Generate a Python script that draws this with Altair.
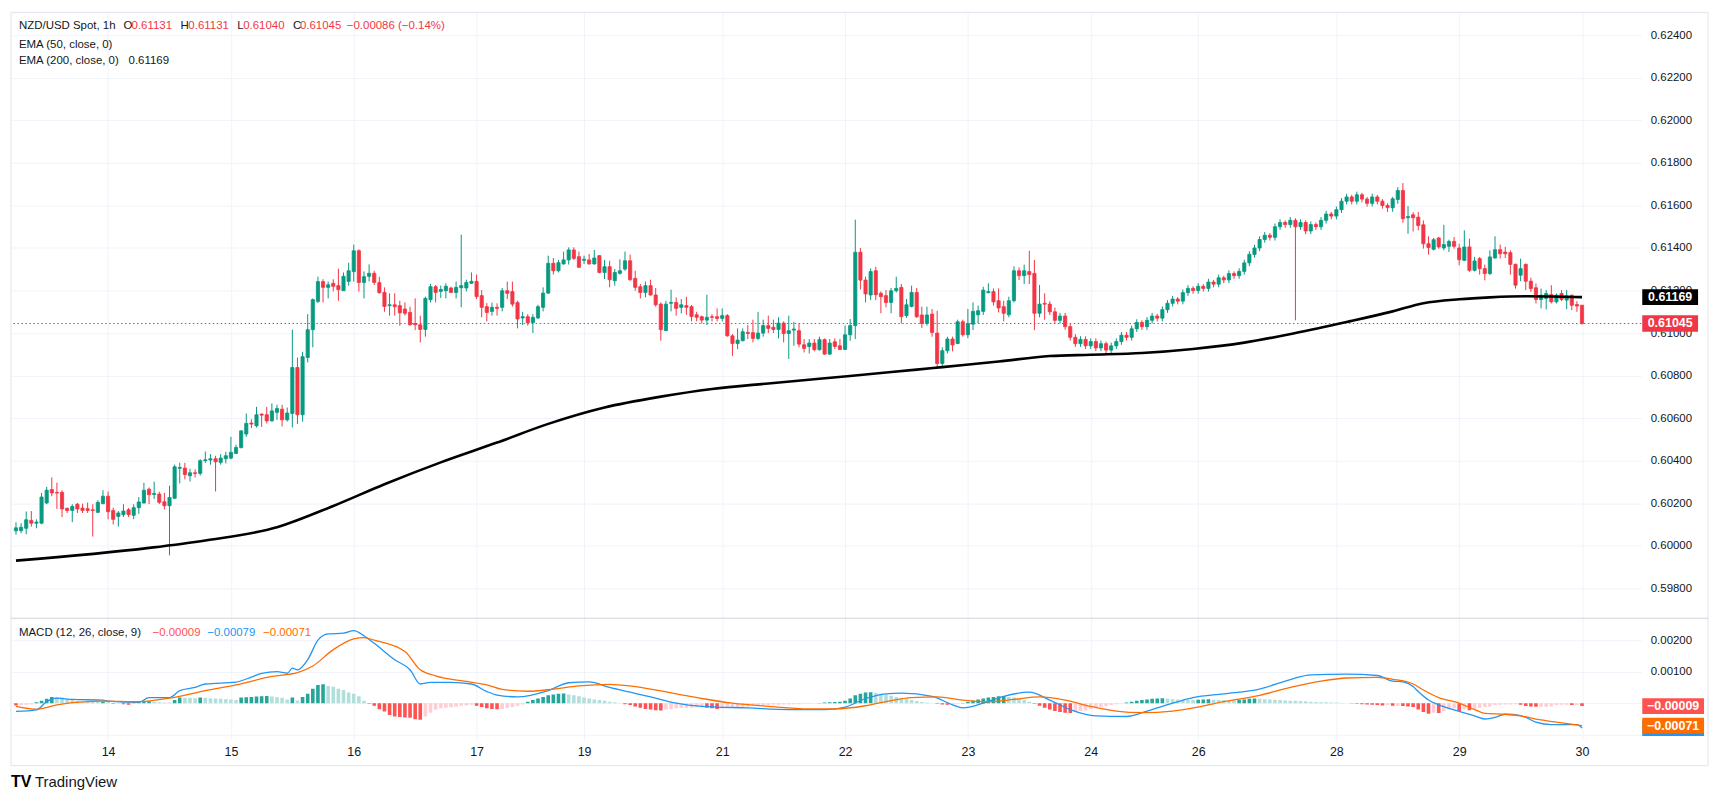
import altair as alt
import pandas as pd

# ---------------- data (prices in 1e-5 units) ----------------
open_pts = [
    60070, 60071, 60082, 60119, 60106, 60106, 60201, 60264, 60251, 60251,
    60176, 60166, 60195, 60177, 60174, 60169, 60157, 60198, 60233, 60166,
    60138, 60146, 60169, 60143, 60179, 60201, 60266, 60241, 60243, 60207,
    60188, 60223, 60364, 60365, 60329, 60343, 60340, 60400, 60403, 60409,
    60392, 60409, 60412, 60434, 60462, 60525, 60577, 60564, 60619, 60616,
    60587, 60627, 60642, 60592, 60622, 60838, 60616, 60885, 61016, 61149,
    61242, 61215, 61234, 61223, 61199, 61243, 61289, 61387, 61238, 61267,
    61281, 61237, 61191, 61129, 61133, 61129, 61113, 61097, 61045, 61039,
    61017, 61157, 61218, 61196, 61199, 61212, 61191, 61213, 61212, 61234,
    61243, 61176, 61124, 61102, 61121, 61121, 61199, 61195, 61143, 61071,
    61077, 61049, 61071, 61121, 61188, 61328, 61293, 61325, 61344, 61391,
    61359, 61342, 61344, 61325, 61364, 61285, 61312, 61246, 61281, 61301,
    61340, 61257, 61218, 61191, 61223, 61179, 61136, 61011, 61140, 61144,
    61121, 61129, 61124, 61086, 61077, 61061, 61077, 61077, 61069, 61082,
    60987, 60951, 60964, 61003, 61002, 60975, 61000, 61035, 61027, 61017,
    61047, 60998, 61014, 61011, 60945, 60937, 60953, 60922, 60969, 60901,
    60959, 60940, 60923, 60992, 61035, 61380, 61249, 61179, 61293, 61187,
    61176, 61144, 61199, 61215, 61082, 61125, 61191, 61085, 61045, 61089,
    61000, 60857, 60917, 60972, 60951, 61053, 60992, 61042, 61086, 61102,
    61190, 61195, 61152, 61124, 61086, 61152, 61293, 61270, 61289, 61281,
    61093, 61140, 61136, 61100, 61060, 61080, 61030, 60980, 60950, 60970,
    60940, 60960, 60930, 60950, 60920, 60940, 60960, 60990, 60980, 61020,
    61050, 61030, 61060, 61080, 61070, 61110, 61140, 61160, 61150, 61190,
    61210, 61200, 61220, 61210, 61240, 61230, 61260, 61250, 61280, 61270,
    61290, 61330, 61370, 61400, 61440, 61460, 61450, 61500, 61520, 61510,
    61530, 61500, 61520, 61480, 61510, 61500, 61530, 61560, 61550, 61580,
    61620, 61640, 61620, 61650, 61630, 61610, 61640, 61620, 61600, 61589,
    61628, 61670, 61542, 61556, 61545, 61509, 61420, 61394, 61447, 61400,
    61408, 61431, 61400, 61342, 61405, 61295, 61350, 61303, 61280, 61353,
    61392, 61381, 61378, 61323, 61272, 61323, 61244, 61213, 61158, 61163,
    61181, 61147, 61186, 61155, 61178, 61134, 61131,
]
high_pts = [
    60110, 60106, 60161, 60163, 60124, 60248, 60277, 60321, 60296, 60261,
    60179, 60195, 60201, 60198, 60203, 60195, 60214, 60261, 60255, 60179,
    60163, 60195, 60177, 60195, 60229, 60296, 60274, 60301, 60254, 60249,
    60282, 60381, 60390, 60390, 60362, 60359, 60407, 60443, 60431, 60423,
    60431, 60442, 60512, 60475, 60544, 60622, 60595, 60653, 60622, 60653,
    60669, 60663, 60663, 60650, 61016, 60885, 60912, 61089, 61163, 61265,
    61253, 61242, 61253, 61303, 61285, 61331, 61416, 61394, 61290, 61323,
    61293, 61265, 61215, 61187, 61187, 61152, 61144, 61124, 61163, 61082,
    61171, 61231, 61226, 61223, 61234, 61218, 61242, 61463, 61251, 61285,
    61275, 61202, 61141, 61143, 61140, 61212, 61242, 61242, 61152, 61100,
    61089, 61089, 61133, 61215, 61364, 61353, 61344, 61383, 61403, 61403,
    61383, 61364, 61372, 61391, 61367, 61344, 61340, 61301, 61347, 61383,
    61369, 61293, 61231, 61242, 61251, 61212, 61144, 61152, 61204, 61168,
    61160, 61171, 61132, 61100, 61082, 61180, 61089, 61116, 61116, 61089,
    60995, 61022, 61022, 61038, 61063, 61100, 61063, 61082, 61063, 61074,
    61055, 61082, 61053, 61045, 60972, 60972, 60972, 60983, 60975, 60972,
    60975, 60972, 61035, 61066, 61533, 61400, 61265, 61304, 61312, 61196,
    61202, 61212, 61265, 61231, 61160, 61223, 61212, 61124, 61124, 61113,
    61105, 60933, 60983, 60983, 61063, 61063, 61113, 61144, 61129, 61218,
    61234, 61210, 61210, 61152, 61171, 61314, 61309, 61322, 61387, 61344,
    61226, 61187, 61150, 61120, 61095, 61095, 61045, 60995, 60985, 60985,
    60975, 60975, 60965, 60960, 60955, 60975, 61005, 61005, 61035, 61065,
    61060, 61075, 61095, 61090, 61125, 61155, 61175, 61170, 61205, 61225,
    61220, 61235, 61230, 61255, 61250, 61275, 61270, 61295, 61290, 61305,
    61345, 61385, 61415, 61455, 61475, 61470, 61515, 61535, 61530, 61545,
    61540, 61535, 61530, 61525, 61520, 61545, 61575, 61570, 61595, 61635,
    61655, 61650, 61665, 61660, 61640, 61655, 61650, 61630, 61610, 61640,
    61686, 61705, 61597, 61569, 61569, 61530, 61455, 61447, 61452, 61509,
    61439, 61452, 61420, 61483, 61444, 61358, 61358, 61322, 61389, 61455,
    61416, 61405, 61389, 61327, 61350, 61327, 61261, 61233, 61209, 61202,
    61225, 61186, 61202, 61202, 61181, 61150, 61131,
]
low_pts = [
    60052, 60059, 60054, 60090, 60082, 60101, 60195, 60233, 60173, 60135,
    60154, 60111, 60154, 60154, 60154, 60043, 60154, 60195, 60124, 60100,
    60090, 60135, 60135, 60125, 60150, 60198, 60196, 60220, 60196, 60171,
    59955, 60220, 60293, 60312, 60302, 60321, 60330, 60390, 60381, 60255,
    60381, 60387, 60406, 60431, 60457, 60512, 60553, 60556, 60559, 60575,
    60584, 60592, 60561, 60584, 60556, 60572, 60583, 60862, 60933, 61141,
    61144, 61163, 61196, 61152, 61199, 61223, 61242, 61195, 61163, 61243,
    61226, 61185, 61100, 61082, 61082, 61035, 61082, 61035, 61014, 60956,
    60983, 61144, 61144, 61165, 61163, 61188, 61163, 61121, 61196, 61231,
    61160, 61074, 61055, 61082, 61082, 61102, 61160, 61124, 61022, 61038,
    61035, 61000, 61066, 61102, 61184, 61275, 61285, 61322, 61322, 61344,
    61309, 61325, 61322, 61322, 61281, 61254, 61215, 61223, 61275, 61293,
    61246, 61199, 61163, 61168, 61176, 61124, 60964, 61011, 61102, 61082,
    61093, 61086, 61055, 61055, 61045, 61038, 61055, 61055, 61055, 60983,
    60893, 60925, 60961, 60972, 60956, 60967, 60983, 61000, 61000, 60975,
    60956, 60878, 60940, 60933, 60909, 60904, 60914, 60917, 60898, 60898,
    60925, 60920, 60920, 60964, 60972, 61205, 61144, 61155, 61155, 61093,
    61121, 61093, 61191, 61045, 61071, 61121, 61071, 61024, 61035, 60983,
    60838, 60835, 60904, 60914, 60948, 60983, 60976, 61014, 61045, 61085,
    61187, 61129, 61097, 61055, 61074, 61144, 61249, 61231, 61231, 61014,
    61074, 61063, 61085, 61045, 61045, 61015, 60965, 60935, 60935, 60925,
    60925, 60915, 60915, 60900, 60905, 60925, 60945, 60965, 60965, 61005,
    61015, 61015, 61045, 61055, 61055, 61095, 61125, 61135, 61135, 61175,
    61185, 61185, 61195, 61195, 61215, 61215, 61235, 61235, 61255, 61255,
    61275, 61315, 61355, 61385, 61425, 61435, 61435, 61485, 61495, 61495,
    61060, 61485, 61465, 61465, 61485, 61485, 61515, 61535, 61535, 61565,
    61605, 61605, 61605, 61615, 61595, 61595, 61605, 61585, 61570, 61570,
    61608, 61519, 61467, 61478, 61483, 61397, 61369, 61389, 61397, 61389,
    61381, 61397, 61319, 61338, 61288, 61290, 61275, 61248, 61272, 61350,
    61350, 61353, 61275, 61209, 61244, 61202, 61194, 61139, 61116, 61111,
    61139, 61139, 61150, 61113, 61108, 61100, 61040,
]
close_pts = [
    60084, 60087, 60122, 60106, 60111, 60229, 60261, 60248, 60248, 60173,
    60166, 60185, 60173, 60166, 60166, 60166, 60204, 60233, 60160, 60124,
    60154, 60163, 60146, 60179, 60206, 60261, 60240, 60246, 60204, 60188,
    60227, 60371, 60368, 60335, 60343, 60340, 60400, 60404, 60409, 60395,
    60412, 60423, 60439, 60462, 60540, 60575, 60572, 60616, 60614, 60587,
    60634, 60645, 60592, 60624, 60838, 60616, 60889, 61016, 61157, 61242,
    61215, 61227, 61220, 61204, 61267, 61293, 61387, 61238, 61265, 61281,
    61238, 61190, 61125, 61133, 61124, 61095, 61093, 61039, 61039, 61017,
    61163, 61218, 61191, 61205, 61220, 61191, 61215, 61223, 61238, 61243,
    61171, 61121, 61097, 61121, 61116, 61199, 61187, 61136, 61066, 61077,
    61049, 61074, 61124, 61188, 61328, 61293, 61331, 61344, 61391, 61351,
    61309, 61347, 61325, 61353, 61285, 61312, 61251, 61285, 61293, 61340,
    61251, 61215, 61191, 61223, 61179, 61133, 61016, 61136, 61144, 61116,
    61133, 61121, 61078, 61074, 61061, 61074, 61074, 61069, 61082, 60987,
    60951, 60967, 61006, 60998, 60975, 61000, 61035, 61022, 61017, 61047,
    60998, 61011, 61019, 60948, 60928, 60953, 60922, 60969, 60901, 60953,
    60937, 60923, 60992, 61035, 61380, 61249, 61184, 61289, 61180, 61171,
    61144, 61199, 61210, 61077, 61133, 61191, 61077, 61045, 61085, 61003,
    60857, 60917, 60972, 60944, 61053, 60992, 61045, 61102, 61105, 61202,
    61195, 61147, 61118, 61093, 61152, 61293, 61270, 61293, 61275, 61093,
    61136, 61136, 61100, 61060, 61080, 61030, 60980, 60950, 60970, 60940,
    60960, 60930, 60950, 60920, 60940, 60960, 60990, 60980, 61020, 61050,
    61030, 61060, 61080, 61070, 61110, 61140, 61160, 61150, 61190, 61210,
    61200, 61220, 61210, 61240, 61230, 61260, 61250, 61280, 61270, 61290,
    61330, 61370, 61400, 61440, 61460, 61450, 61500, 61520, 61510, 61530,
    61500, 61520, 61480, 61510, 61500, 61530, 61560, 61550, 61580, 61620,
    61640, 61620, 61650, 61630, 61610, 61640, 61620, 61600, 61590, 61631,
    61670, 61538, 61548, 61542, 61506, 61420, 61402, 61439, 61405, 61416,
    61431, 61408, 61345, 61405, 61295, 61339, 61303, 61280, 61358, 61392,
    61373, 61373, 61323, 61225, 61303, 61244, 61209, 61158, 61178, 61186,
    61147, 61178, 61158, 61175, 61131, 61127, 61045,
]

ema200_bar = [0, 26, 37, 51, 62, 72, 83, 94, 104, 115, 126, 136, 147, 157, 168,
              176, 181, 192, 202, 210, 220, 230, 240, 250, 260, 269, 275, 282,
              288, 295, 306]
ema200_val = [0.59930, 0.59990, 0.60025, 0.60087, 0.60187, 0.60289, 0.60392,
              0.60485, 0.60573, 0.60650, 0.60701, 0.60737, 0.60763, 0.60785,
              0.60810, 0.60828, 0.60840, 0.60866, 0.60892, 0.60898, 0.60906,
              0.60925, 0.60955, 0.61000, 0.61052, 0.61102, 0.61140, 0.61159,
              0.61168, 0.61173, 0.61169]

# MACD values in 1e-5 units
macd_bar = [0, 4, 6, 8, 11, 17, 18, 24, 26, 30, 32, 35, 37, 43, 46, 48, 51, 53,
            54, 55, 57, 59, 61, 64, 66, 68, 70, 74, 77, 79, 81, 85, 89, 92, 94,
            98, 104, 108, 112, 116, 120, 124, 129, 134, 143, 151, 158, 162, 166,
            170, 173, 179, 183, 185, 189, 193, 198, 202, 206, 211, 217, 221, 226,
            230, 236, 243, 249, 253, 260, 266, 269, 271, 273, 274, 276, 278, 280,
            282, 285, 287, 289, 291, 294, 297, 300, 305, 306]
macd_val = [-26, -21, 5, 16, 12, 10, 7, 3, 18, 18, 40, 50, 61, 67, 83, 95, 100,
            95, 111, 106, 138, 200, 220, 222, 230, 214, 190, 138, 106, 61, 66, 66,
            61, 37, 26, 20, 40, 65, 68, 50, 35, 20, 0, -10, -15, -20, -20, -12,
            15, 30, 32, 22, -5, -15, 0, 22, 35, 10, -20, -40, -42, -25, 0, 18,
            30, 45, 75, 90, 92, 88, 70, 68, 53, 37, 10, -5, -16, -26, -40, -50,
            -45, -35, -39, -60, -68, -68, -79]
signal_bar = [0, 4, 8, 11, 17, 24, 30, 37, 43, 50, 55, 58, 62, 66, 68, 70, 76,
              79, 82, 88, 92, 95, 100, 105, 110, 116, 120, 124, 129, 134, 140,
              147, 155, 160, 166, 170, 175, 180, 185, 190, 195, 200, 205, 210,
              215, 220, 226, 230, 236, 243, 249, 255, 260, 266, 269, 273, 275,
              278, 282, 285, 287, 291, 294, 298, 301, 306]
signal_val = [-10, -19, -5, 2, 7, 5, 16, 40, 58, 85, 97, 118, 170, 204, 208, 200,
              164, 106, 87, 69, 58, 44, 38, 45, 55, 60, 55, 45, 30, 15, 0, -10,
              -18, -18, -8, 5, 18, 20, 10, 5, 12, 20, 10, -10, -25, -30, -25, -15,
              5, 25, 50, 70, 80, 82, 76, 61, 42, 18, 0, -20, -32, -35, -40, -53,
              -60, -71]
hist_val = [
    -7, -6, -5, -4, 3, 8, 14, 20, 20, 18,
    13, 10, 7, 5, 5, 4, 4, 5, 5, -2,
    -2, -3, -5, 3, 4, 5, 6, 4, 3, 2,
    2, 10, 18, 17, 17, 16, 18, 17, 16, 15,
    14, 13, 12, 10, 18, 19, 20, 21, 22, 23,
    21, 19, 17, 12, 18, 9, 20, 30, 46, 58,
    60, 55, 52, 46, 42, 34, 30, 22, 8, -2,
    -8, -19, -26, -37, -42, -44, -45, -46, -51, -52,
    -42, -30, -21, -16, -14, -13, -11, -8, -7, -5,
    -8, -12, -16, -18, -19, -18, -15, -12, -8, -4,
    5, 10, 15, 20, 25, 28, 30, 31, 28, 25,
    22, 18, 15, 12, 10, 8, 5, 3, 1, -3,
    -6, -10, -14, -18, -20, -22, -23, -20, -18, -16,
    -15, -15, -14, -13, -12, -14, -16, -18, -17, -15,
    -14, -13, -12, -10, -8, -7, -6, -6, -5, -5,
    -4, -4, -3, -3, -2, -2, -1, 1, 2, 3,
    4, 5, 8, 15, 25, 30, 34, 35, 33, 30,
    27, 24, 20, 17, 14, 10, 7, 4, 2, 0,
    -2, -4, -5, -4, -2, 1, 4, 8, 12, 15,
    18, 20, 22, 23, 20, 18, 15, 10, 5, -2,
    -8, -14, -20, -25, -28, -30, -31, -28, -25, -22,
    -18, -15, -12, -9, -6, -3, -1, 2, 5, 8,
    10, 12, 14, 15, 16, 14, 13, 12, 11, 10,
    10, 11, 12, 13, 11, 10, 10, 9, 9, 10,
    12, 14, 15, 14, 13, 12, 11, 10, 9, 8,
    8, 7, 6, 5, 4, 3, 3, 2, 2, 1,
    0, -1, -2, -3, -4, -5, -6, -7, -6, -8,
    -8, -9, -10, -12, -20, -28, -33, -30, -31, -25,
    -20, -16, -25, -20, -22, -18, -15, -12, -10, -6,
    -5, -4, -4, -3, -5, -9, -10, -11, -11, -11,
    -10, -6, -5, -5, -6, -6, -9,
]

day_labels = ["14", "15", "16", "17", "19", "21", "22", "23", "24", "26", "28", "29", "30"]
day_label_bars = [18, 42, 66, 90, 111, 138, 162, 186, 210, 231, 258, 282, 306]
price_ticks = [0.598, 0.600, 0.602, 0.604, 0.606, 0.608, 0.610, 0.612, 0.614,
               0.616, 0.618, 0.620, 0.622, 0.624]
macd_ticks = [-0.001, 0.0, 0.001, 0.002]

last_close = 0.61045
last_ema = 0.61169
last_hist, last_macd, last_signal = -0.00009, -0.00079, -0.00071

# ---------------- styling ----------------
FONT = "Liberation Sans"
FS = 11.5
TXT = "#131722"
UP, DOWN = "#089981", "#f23645"
GRID = "#f0f3fa"
BORDER = "#e0e3eb"
W, HP, HM = 1636, 608, 122
X_DOM = [0, 316.6]
P_DOM = [0.59659, 0.62508]
M_DOM = [-0.00116, 0.002695]

n = min(len(open_pts), len(high_pts), len(low_pts), len(close_pts))
candles = pd.DataFrame({
    "bar": list(range(n)),
    "o": [v / 1e5 for v in open_pts[:n]],
    "h": [v / 1e5 for v in high_pts[:n]],
    "l": [v / 1e5 for v in low_pts[:n]],
    "c": [v / 1e5 for v in close_pts[:n]],
})
candles["col"] = [UP if c >= o else DOWN for o, c in zip(candles["o"], candles["c"])]

ema_df = pd.DataFrame({"bar": ema200_bar, "v": ema200_val})
macd_df = pd.DataFrame({"bar": macd_bar, "v": [v / 1e5 for v in macd_val]})
sig_df = pd.DataFrame({"bar": signal_bar, "v": [v / 1e5 for v in signal_val]})
hist_cols = []
prev = 0
for hv in hist_val:
    if hv >= 0:
        hist_cols.append("#26a69a" if hv > prev else "#b2dfdb")
    else:
        hist_cols.append("#ff5252" if hv < prev else "#ffcdd2")
    prev = hv
hist_df = pd.DataFrame({"bar": list(range(len(hist_val))),
                        "v": [v / 1e5 for v in hist_val], "col": hist_cols})

xs = alt.Scale(domain=X_DOM, nice=False, zero=False)
ps = alt.Scale(domain=P_DOM, nice=False, zero=False)
ms = alt.Scale(domain=M_DOM, nice=False, zero=False)

label_expr = " : ".join(f"datum.value == {b} ? '{d}'" for b, d in zip(day_label_bars, day_labels)) + " : ''"

X_AX_P = alt.Axis(values=day_label_bars, grid=True, gridColor=GRID, labels=False,
                  ticks=False, domain=False, title=None)
X_AX_M = alt.Axis(values=day_label_bars, grid=True, gridColor=GRID, labelExpr=label_expr,
                  ticks=False, domain=False, title=None, labelFontSize=12.5,
                  labelColor=TXT, labelPadding=6, labelFont=FONT)
Y_AX_P = alt.Axis(orient="right", values=price_ticks, format=".5f", grid=True,
                  gridColor=GRID, ticks=False, domain=False, title=None,
                  labelFontSize=FS, labelColor=TXT, labelPadding=9, labelFont=FONT)
Y_AX_M = alt.Axis(orient="right", values=macd_ticks, grid=True, gridColor=GRID,
                  ticks=False, domain=False, title=None, labelFontSize=FS,
                  labelColor=TXT, labelPadding=9, labelFont=FONT,
                  labelExpr="datum.value > 0.0005 ? format(datum.value, '.5f') : ''")


def XP(f="bar"):
    return alt.X(f"{f}:Q", scale=xs, axis=X_AX_P)


def YP(f):
    return alt.Y(f"{f}:Q", scale=ps, axis=Y_AX_P)


def XM(f="bar"):
    return alt.X(f"{f}:Q", scale=xs, axis=X_AX_M)


def YM(f):
    return alt.Y(f"{f}:Q", scale=ms, axis=Y_AX_M)


def one(**kw):
    return pd.DataFrame({k: [v] for k, v in kw.items()})


def txt(s, x, y, color=TXT, size=FS, weight="normal", align="left"):
    return alt.Chart(one(t=s)).mark_text(
        align=align, baseline="middle", fontSize=size, fontWeight=weight,
        color=color, font=FONT
    ).encode(x=alt.value(x), y=alt.value(y), text="t:N")


def box(value, label, fill, half, x1, x2, ycall, size=12.5):
    df = one(v=value, top=value + half, bot=value - half, t=label)
    r = alt.Chart(df).mark_rect(color=fill).encode(
        x=alt.value(x1), x2=alt.value(x2), y=ycall("top"), y2="bot:Q")
    t = alt.Chart(df).mark_text(color="white", fontSize=size, fontWeight="bold",
                                align="center", baseline="middle", font=FONT).encode(
        x=alt.value((x1 + x2) / 2), y=ycall("v"), text="t:N")
    return [r, t]


def rule_px(x, x2, y, y2, color=BORDER):
    return alt.Chart(one(a=1)).mark_rule(color=color, strokeWidth=1).encode(
        x=alt.value(x), x2=alt.value(x2), y=alt.value(y), y2=alt.value(y2))


# ---------------- price pane ----------------
wicks = alt.Chart(candles).mark_rule(strokeWidth=1, clip=True).encode(
    x=XP(), y=YP("l"), y2="h:Q", color=alt.Color("col:N", scale=None))
bodies = alt.Chart(candles).mark_bar(size=3.2, strokeWidth=0.8, clip=True).encode(
    x=XP(), y=YP("o"), y2="c:Q",
    color=alt.Color("col:N", scale=None), stroke=alt.Stroke("col:N", scale=None))
ema_line = alt.Chart(ema_df).mark_line(color="black", strokeWidth=2.6,
                                       interpolate="monotone", clip=True).encode(
    x=XP(), y=YP("v"))
close_line = alt.Chart(one(v=last_close)).mark_rule(
    color=DOWN, strokeDash=[1.5, 2.5], strokeWidth=1).encode(y=YP("v"))

price_layers = [wicks, close_line, bodies, ema_line]
price_layers += box(last_ema, "0.61169", "#000000", 0.00037, 1637, 1693, YP)
price_layers += box(last_close, "0.61045", DOWN, 0.00039, 1637, 1693, YP)

price_layers += [
    txt("NZD/USD Spot, 1h", 8, 14),
    txt("O", 113, 14), txt("0.61131", 121, 14, DOWN),
    txt("H", 170, 14), txt("0.61131", 178, 14, DOWN),
    txt("L", 227, 14), txt("0.61040", 233, 14, DOWN),
    txt("C", 283, 14), txt("0.61045", 290, 14, DOWN),
    txt("\u22120.00086 (\u22120.14%)", 337, 14, DOWN),
    txt("EMA (50, close, 0)", 8, 33),
    txt("EMA (200, close, 0)", 8, 49), txt("0.61169", 118, 49),
    txt("TV", 0, 772, "#000000", 16, "bold"),
    txt("TradingView", 24, 772, TXT, 15),
]
price_layers += [
    rule_px(0, 1703, 0, 0),
    rule_px(0, 0, 0, 756),
    rule_px(1703, 1703, 0, 756),
    rule_px(0, 1703, 756, 756),
    rule_px(0, 1703, 608, 608, "#d1d4dc"),
]
price = alt.layer(*price_layers).properties(width=W, height=HP)

# ---------------- MACD pane ----------------
hist = alt.Chart(hist_df).mark_bar(size=3.6, clip=True).encode(
    x=XM(), y=YM("v"), y2=alt.datum(0), color=alt.Color("col:N", scale=None))
macd_line = alt.Chart(macd_df).mark_line(color="#2196f3", strokeWidth=1.3,
                                         interpolate="monotone", clip=True).encode(
    x=XM(), y=YM("v"))
sig_line = alt.Chart(sig_df).mark_line(color="#ff6d00", strokeWidth=1.3,
                                       interpolate="monotone", clip=True).encode(
    x=XM(), y=YM("v"))

macd_layers = [hist, macd_line, sig_line]
macd_layers += box(last_macd, "\u22120.00079", "#2196f3", 0.00025, 1637, 1699, YM)
macd_layers += box(last_signal, "\u22120.00071", "#ff6d00", 0.00025, 1637, 1699, YM)
macd_layers += box(last_hist, "\u22120.00009", "#ff5252", 0.00025, 1637, 1699, YM)
macd_layers += [
    txt("MACD (12, 26, close, 9)", 8, 15),
    txt("\u22120.00009", 142, 15, "#ff5252"),
    txt("\u22120.00079", 197, 15, "#2196f3"),
    txt("\u22120.00071", 253, 15, "#ff6d00"),
]
macd = alt.layer(*macd_layers).properties(width=W, height=HM)

chart = alt.vconcat(price, macd, spacing=0, bounds="flush").properties(
    padding={"left": 2, "top": 2, "right": 6, "bottom": 6},
    background="white",
).configure_view(stroke=None)

chart.save("out.html", embed_options={"renderer": "svg", "actions": False})
